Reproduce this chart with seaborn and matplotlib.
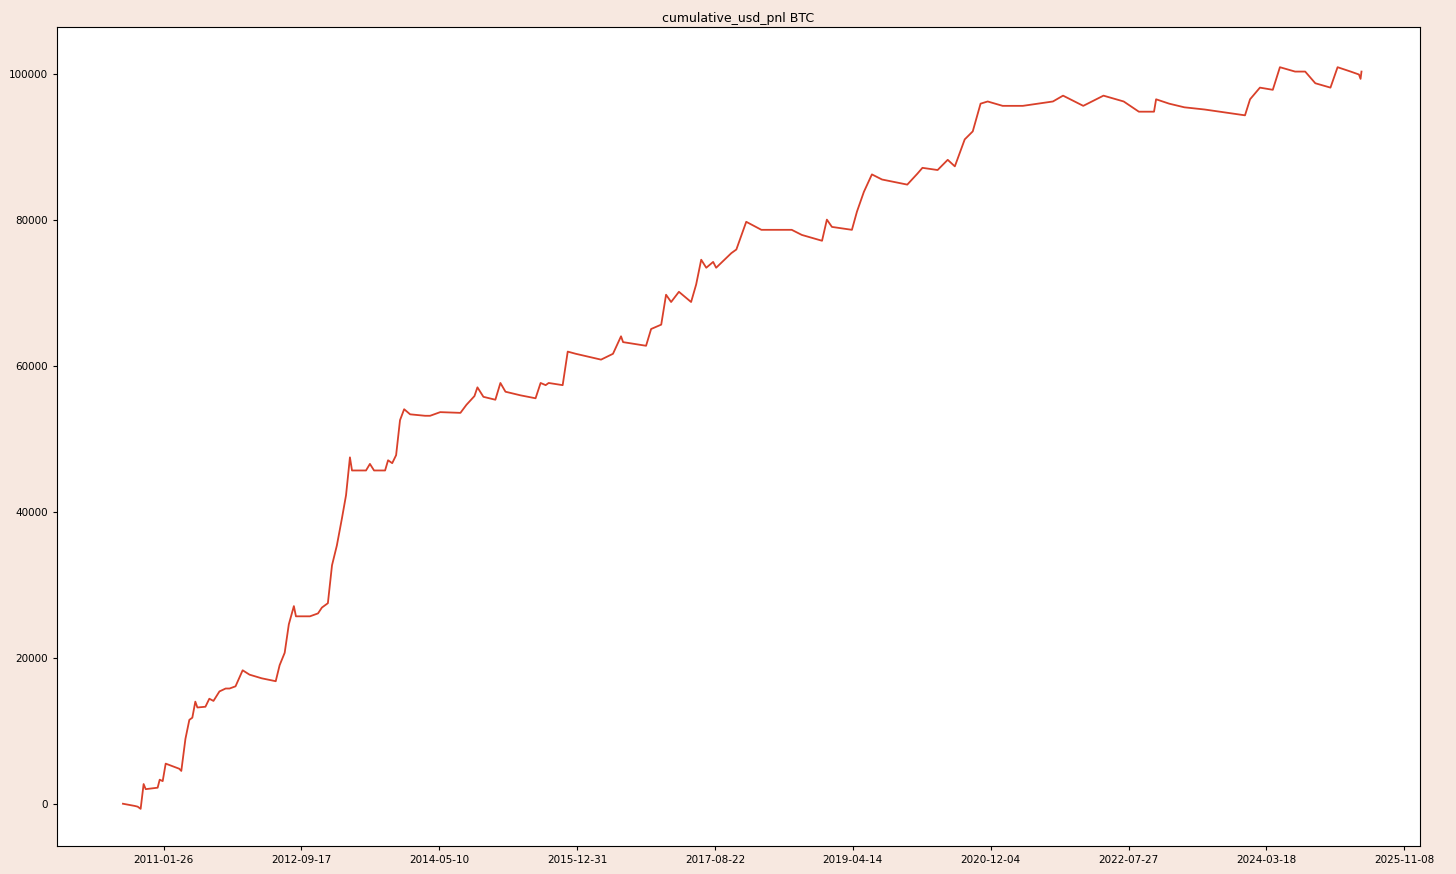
import matplotlib
matplotlib.use("Agg")
import matplotlib.pyplot as plt
import matplotlib.dates as mdates
import seaborn as sns
import pandas as pd

dates = ["2010-08-02","2010-09-22","2010-10-05","2010-10-18","2010-10-31","2010-11-09","2010-12-31","2011-01-09","2011-01-22","2011-02-04",
"2011-04-04","2011-04-13","2011-05-01","2011-05-18","2011-05-31","2011-06-13","2011-06-22","2011-07-27","2011-08-13","2011-08-31",
"2011-09-26","2011-10-23","2011-11-09","2011-12-05","2012-01-05","2012-02-04","2012-03-28","2012-05-28","2012-06-14","2012-07-06",
"2012-07-24","2012-08-15","2012-08-24","2012-10-24","2012-11-28","2012-12-15","2013-01-10","2013-01-28","2013-02-18","2013-03-12",
"2013-03-30","2013-04-16","2013-04-25","2013-06-25","2013-07-12","2013-07-30","2013-09-16","2013-09-29","2013-10-17","2013-11-03",
"2013-11-20","2013-12-08","2014-01-03","2014-03-09","2014-03-31","2014-05-14","2014-08-10","2014-09-05","2014-10-10","2014-10-23",
"2014-11-18","2015-01-09","2015-01-31","2015-02-22","2015-04-29","2015-07-03","2015-07-25","2015-08-16","2015-08-29","2015-10-29",
"2015-11-20","2015-12-25","2016-04-13","2016-06-04","2016-07-09","2016-07-18","2016-10-26","2016-11-17","2016-12-31","2017-01-21",
"2017-02-12","2017-03-18","2017-05-10","2017-06-01","2017-06-23","2017-07-15","2017-08-14","2017-08-27","2017-11-01","2017-11-23",
"2018-01-05","2018-03-12","2018-07-22","2018-09-04","2018-12-01","2018-12-22","2019-01-13","2019-04-10","2019-05-02","2019-06-01",
"2019-07-06","2019-08-19","2019-12-07","2020-01-20","2020-02-11","2020-04-17","2020-05-31","2020-07-01","2020-08-13","2020-09-17",
"2020-10-21","2020-11-21","2021-01-25","2021-04-23","2021-09-01","2021-10-15","2022-01-11","2022-04-09","2022-07-06","2022-09-10",
"2022-11-15","2022-11-24","2023-01-20","2023-03-27","2023-06-23","2023-09-19","2023-12-16","2024-01-07","2024-02-19","2024-04-15",
"2024-05-16","2024-07-21","2024-09-03","2024-10-17","2024-12-22","2025-01-22","2025-03-20","2025-04-25","2025-05-02","2025-05-06"]
pnl = [0,-300,-400,-700,2700,2000,2200,3300,3100,5500,
4800,4500,8900,11500,11800,14000,13200,13300,14400,14100,
15400,15800,15800,16100,18300,17700,17200,16800,19000,20700,
24600,27100,25700,25700,26100,26900,27500,32700,35400,39100,
42300,47500,45700,45700,46600,45700,45700,47100,46700,47800,
52600,54100,53400,53200,53200,53700,53600,54700,55900,57100,
55800,55400,57700,56500,56000,55600,57700,57400,57700,57400,
62000,61700,60900,61700,64100,63300,62800,65100,65700,69800,
68800,70200,68800,71200,74600,73500,74300,73500,75500,76000,
79800,78700,78700,78000,77200,80100,79100,78700,81200,83900,
86300,85600,84900,86400,87200,86900,88300,87400,91100,92200,
96000,96300,95700,95700,96300,97100,95700,97100,96300,94900,
94900,96600,96000,95500,95200,94800,94400,96600,98200,97900,
101000,100400,100400,98800,98200,101000,100400,100000,99400,100400]

df = pd.DataFrame({"date": pd.to_datetime(dates), "pnl": pnl})

fig = plt.figure(figsize=(14.56, 8.74), dpi=100, facecolor="#f7e8e0")
ax = fig.add_axes([0.039, 0.032, 0.936, 0.937])
ax.set_facecolor("white")
sns.lineplot(data=df, x="date", y="pnl", ax=ax, color="#d9402a", linewidth=1.3)
ax.set_title("cumulative_usd_pnl BTC", fontsize=9, pad=4)
ax.set_xlabel("")
ax.set_ylabel("")
ticks = pd.date_range("2011-01-26", periods=10, freq="600D")
ax.set_xticks(ticks)
ax.xaxis.set_major_formatter(mdates.DateFormatter("%Y-%m-%d"))
ax.set_xlim(pd.Timestamp("2009-10-18"), pd.Timestamp("2026-01-14"))
ax.set_ylim(-5800, 106500)
ax.set_yticks([0, 20000, 40000, 60000, 80000, 100000])
ax.tick_params(labelsize=7.5, length=3)
fig.savefig("out.png", dpi=100, facecolor=fig.get_facecolor())
